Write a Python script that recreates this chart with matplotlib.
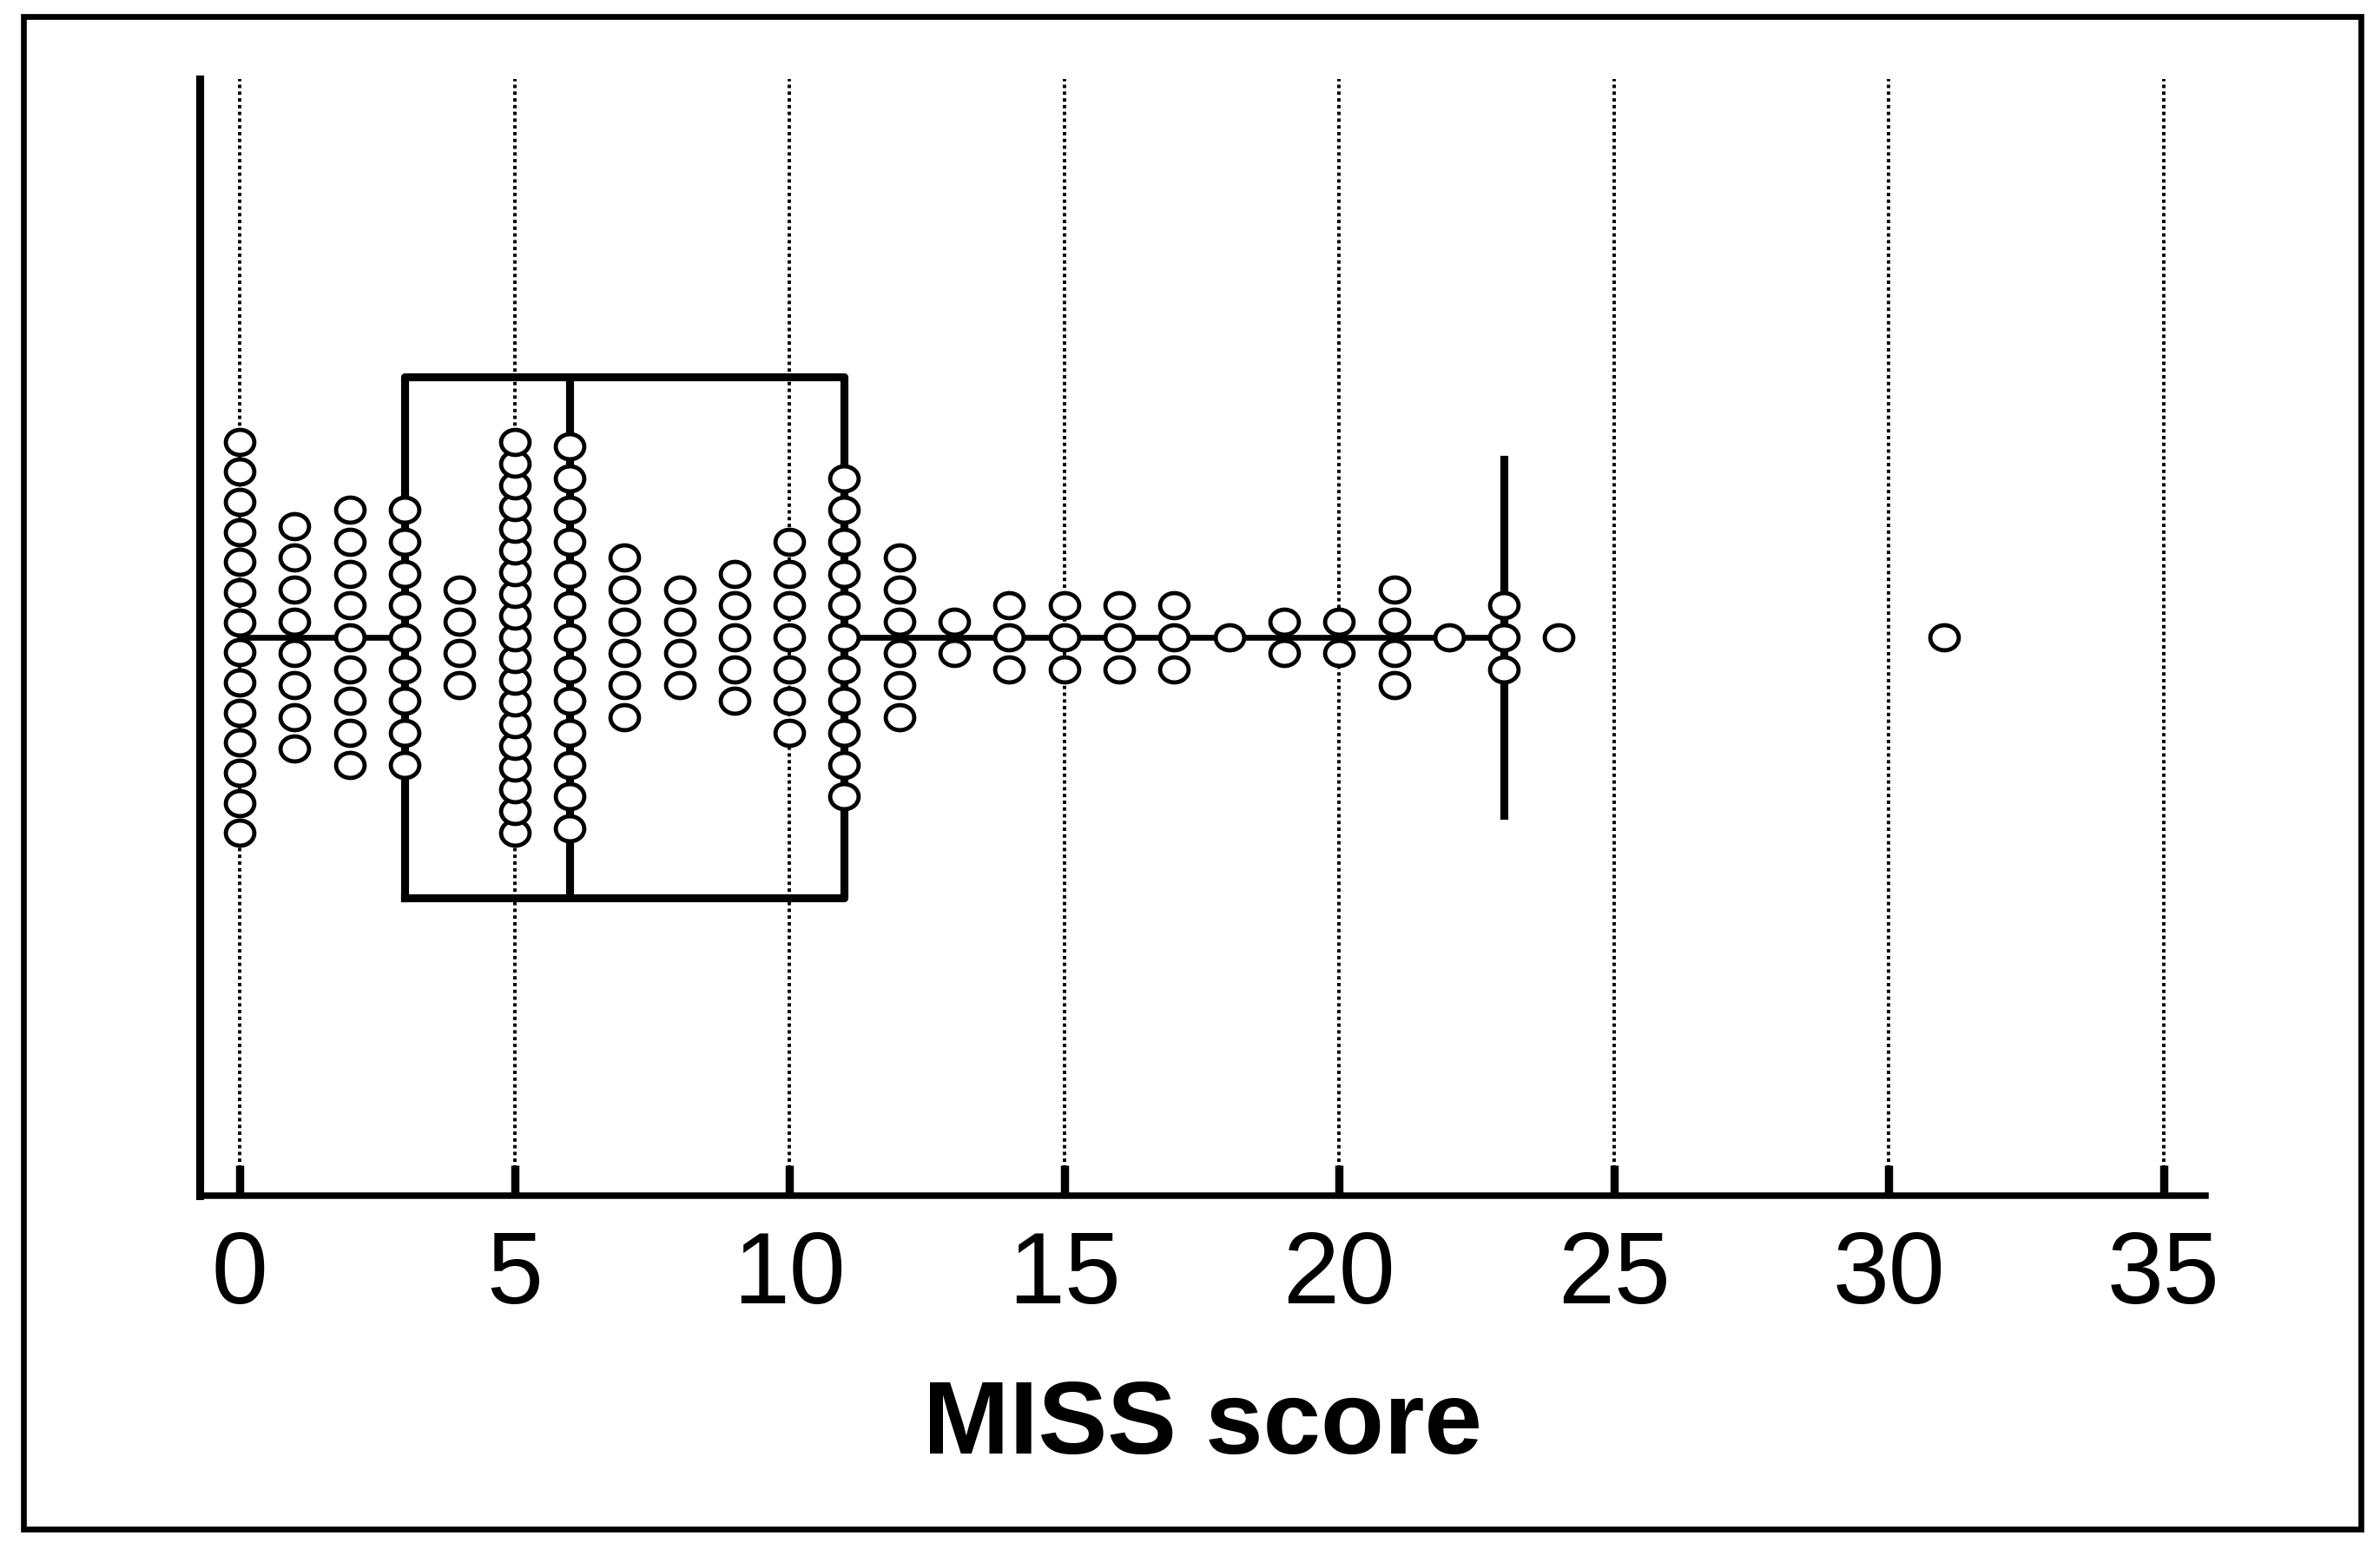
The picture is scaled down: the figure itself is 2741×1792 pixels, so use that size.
import numpy as np
import matplotlib
matplotlib.use('Agg')
import matplotlib.pyplot as plt
from matplotlib.patches import Rectangle
from matplotlib.path import Path

plt.rcParams['font.family'] = ['Liberation Sans', 'DejaVu Sans']

# ---- data ----
scores = [0, 1, 2, 3, 4, 5, 6, 7, 8, 9, 10, 11, 12, 13, 14, 15, 16, 17, 18,
          19, 20, 21, 22, 23, 24, 31]
counts = [14, 8, 9, 9, 4, 19, 13, 6, 4, 5, 7, 11, 6, 2, 3, 3, 3, 3, 1,
          2, 2, 4, 1, 3, 1, 1]
xticks = [0, 5, 10, 15, 20, 25, 30, 35]
xlabel = 'MISS score'

values = np.repeat(scores, counts)

# ---- figure ----
W, H, DPI = 2741, 1792, 200
fig = plt.figure(figsize=(W / DPI, H / DPI), dpi=DPI)
ax = fig.add_axes([230 / W, 1 - 1377 / H, (2540 - 230) / W, (1377 - 91) / H])
ax.set_xlim(-0.727, 35.76)
ax.set_ylim(-1, 1)

px = 2 / 736.0  # y data units per (shrunk) pixel

bp = ax.boxplot(values, orientation='horizontal', positions=[0],
                widths=343 * px, whis=1.5, showfliers=False,
                capwidths=235 * px,
                boxprops=dict(color='k', lw=3.3),
                whiskerprops=dict(color='k', lw=2.4),
                capprops=dict(color='k', lw=3.3),
                medianprops=dict(color='k', lw=3.3))
bp['caps'][0].set_visible(False)
for art in bp['boxes'] + bp['whiskers'] + bp['caps'] + bp['medians']:
    art.set_zorder(3)

# elliptical open marker
th = np.linspace(0, 2 * np.pi, 73)
ell = Path(np.column_stack([np.cos(th), 0.88 * np.sin(th)]), closed=True)

for sc, n in zip(scores, counts):
    step = min(21.0, 258.0 / max(n - 1, 1)) * px
    ys = (np.arange(n) - (n - 1) / 2.0) * step
    ax.plot(np.full(n, sc), ys, ls='none', marker=ell, ms=11.8,
            mfc='white', mec='k', mew=1.75, zorder=5)

ax.set_xticks(xticks)
ax.set_xticklabels([str(t) for t in xticks])
ax.set_yticks([])
ax.grid(axis='x', color='k', lw=1.4, ls=(0, (1, 1)))
ax.set_axisbelow(True)
ax.tick_params(axis='x', direction='in', length=12.6, width=3.4,
               labelsize=42, pad=14, colors='k')
for s in ['top', 'right']:
    ax.spines[s].set_visible(False)
ax.spines['left'].set_linewidth(3.3)
ax.spines['bottom'].set_linewidth(2.7)

ax.set_xlabel(xlabel, fontsize=43, fontweight='bold', va='center')
ax.xaxis.set_label_coords(0.5, (1377 - 1643) / (1377 - 91))

fig.add_artist(Rectangle((27 / W, 1 - 1761 / H), (2719 - 27) / W,
                         (1761 - 19) / H, transform=fig.transFigure,
                         fill=False, lw=2.4, ec='k'))

fig.savefig('out.png', dpi=DPI, facecolor='white')
